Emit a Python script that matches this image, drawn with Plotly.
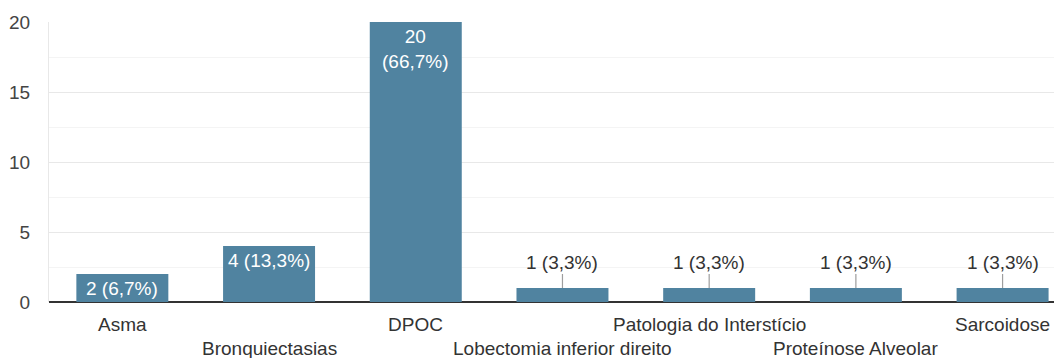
import plotly.graph_objects as go

categories = ["Asma", "Bronquiectasias", "DPOC", "Lobectomia inferior direito",
              "Patologia do Interstício", "Proteínose Alveolar", "Sarcoidose"]
values = [2, 4, 20, 1, 1, 1, 1]
y_ticks = [0, 5, 10, 15, 20]

total = sum(values)
FONT = "Liberation Sans, Arial, sans-serif"
BAR = "#5083a0"
FS = 19

fig = go.Figure()
fig.add_trace(go.Bar(x=categories, y=values, marker=dict(color=BAR, line=dict(width=0)),
                     width=0.627, hoverinfo="skip"))

annotations = []
for i, (c, v) in enumerate(zip(categories, values)):
    pct = f"{100 * v / total:.1f}".replace(".", ",")
    if v >= 10:
        label = f"{v}<br>({pct}%)"
    else:
        label = f"{v} ({pct}%)"
    if v >= 2:
        annotations.append(dict(x=c, y=v, xref="x", yref="y", text=label, showarrow=False,
                                yanchor="top", yshift=-2,
                                font=dict(family=FONT, size=FS, color="white")))
    else:
        annotations.append(dict(x=c, y=v, xref="x", yref="y", text=label, showarrow=True,
                                arrowhead=0, arrowwidth=1.2, arrowcolor="#9e9e9e",
                                ax=0, ay=-26, standoff=0,
                                font=dict(family=FONT, size=FS, color="#333333")))
    annotations.append(dict(x=c, y=0, xref="x", yref="paper", text=c, showarrow=False,
                            yanchor="middle", yshift=-22 if i % 2 == 0 else -46,
                            font=dict(family=FONT, size=FS, color="#333333")))

fig.update_layout(
    width=1054, height=350,
    margin=dict(l=41, r=0, t=14, b=56),
    paper_bgcolor="white", plot_bgcolor="white",
    showlegend=False,
    annotations=annotations,
    xaxis=dict(type="category", range=[-0.5, 6.405], showticklabels=False,
               showgrid=False, zeroline=False, showline=False, fixedrange=True),
    yaxis=dict(range=[0, 20], tickvals=y_ticks, showgrid=True, gridcolor="#e8e8e8",
               gridwidth=1, zeroline=True, zerolinecolor="#333333", zerolinewidth=1.5,
               showline=True, linecolor="#e8e8e8", linewidth=1,
               minor=dict(dtick=2.5, showgrid=True, gridcolor="#f4f4f4", gridwidth=1),
               ticks="", ticklabelstandoff=14,
               tickfont=dict(family=FONT, size=FS, color="#444444")),
)

fig.write_html("out.html")
